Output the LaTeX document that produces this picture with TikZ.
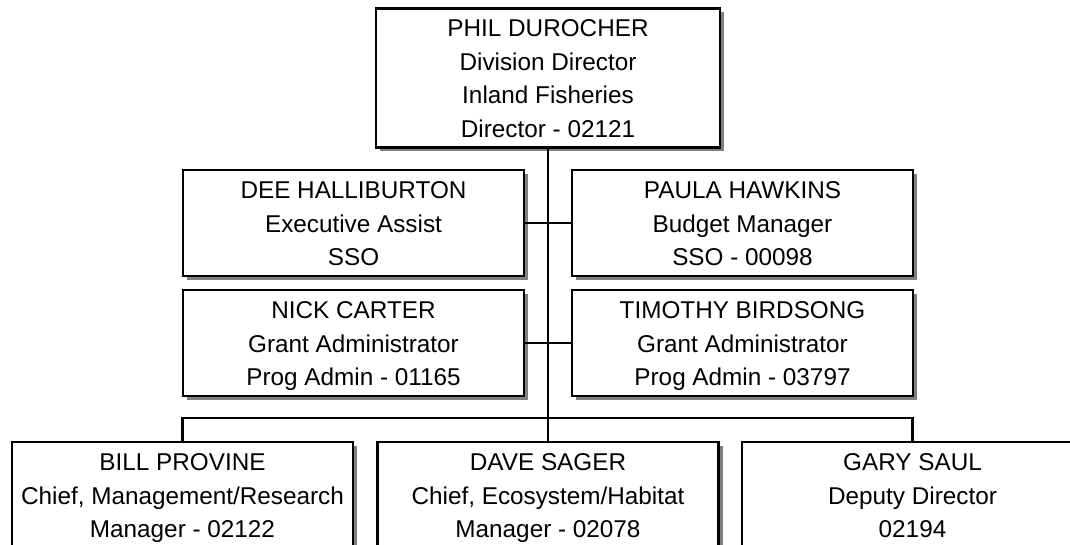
\documentclass[tikz,border=0pt]{standalone}
\usepackage{fontspec}
\setmainfont{Liberation Sans}
\usetikzlibrary{shadows}
\newcommand\tstrut{\rule{0pt}{28.5pt}}
\newcommand\bstrut{\rule[-10pt]{0pt}{10pt}}
\tikzset{
  orgbox/.style={draw=black, line width=2.4pt, fill=white, rectangle, align=center,
    inner sep=0pt, minimum width=341pt, minimum height=102pt,
    font=\fontsize{24.3}{33.5}\selectfont,
    drop shadow={shadow xshift=4pt, shadow yshift=-4pt, fill=black!50, opacity=1}},
  link/.style={draw=black, line width=2.4pt}
}
\begin{document}
\begin{tikzpicture}[x=1pt,y=-1pt]
\clip (0,0) rectangle (1070,545);
\fill[white] (0,0) rectangle (1070,545);
% top
\node[orgbox, minimum width=344pt, minimum height=138pt] (phil) at (548,78)
  {\tstrut PHIL DUROCHER\\Division Director\\Inland Fisheries\\Director - 02121\bstrut};
% middle rows
\node[orgbox] (dee) at (353.5,223) {\tstrut DEE HALLIBURTON\\Executive Assist\\SSO\bstrut};
\node[orgbox] (paula) at (742.5,223) {\tstrut PAULA HAWKINS\\Budget Manager\\SSO - 00098\bstrut};
\node[orgbox, minimum height=103pt] (nick) at (353.5,343) {\tstrut NICK CARTER\\Grant Administrator\\Prog Admin - 01165\bstrut};
\node[orgbox, minimum height=103pt] (tim) at (742.5,343) {\tstrut TIMOTHY BIRDSONG\\Grant Administrator\\Prog Admin - 03797\bstrut};
% bottom row
\node[orgbox, minimum height=106pt] (bill) at (182.5,495) {\tstrut BILL PROVINE\\Chief, Management/Research\\Manager - 02122\bstrut};
\node[orgbox, minimum height=106pt] (dave) at (548,495) {\tstrut DAVE SAGER\\Chief, Ecosystem/Habitat\\Manager - 02078\bstrut};
\node[orgbox, minimum height=106pt] (gary) at (912.5,495) {\tstrut GARY SAUL\\Deputy Director\\02194\bstrut};
% connectors
\coordinate (j) at (548,418);
\draw[link] (phil.south) -- (j);
\draw[link] (dee.east) -- (paula.west);
\draw[link] (nick.east) -- (tim.west);
\draw[link] (bill.north) |- (j);
\draw[link] (gary.north) |- (j);
\draw[link] (dave.north) -- (j);
\end{tikzpicture}
\end{document}
